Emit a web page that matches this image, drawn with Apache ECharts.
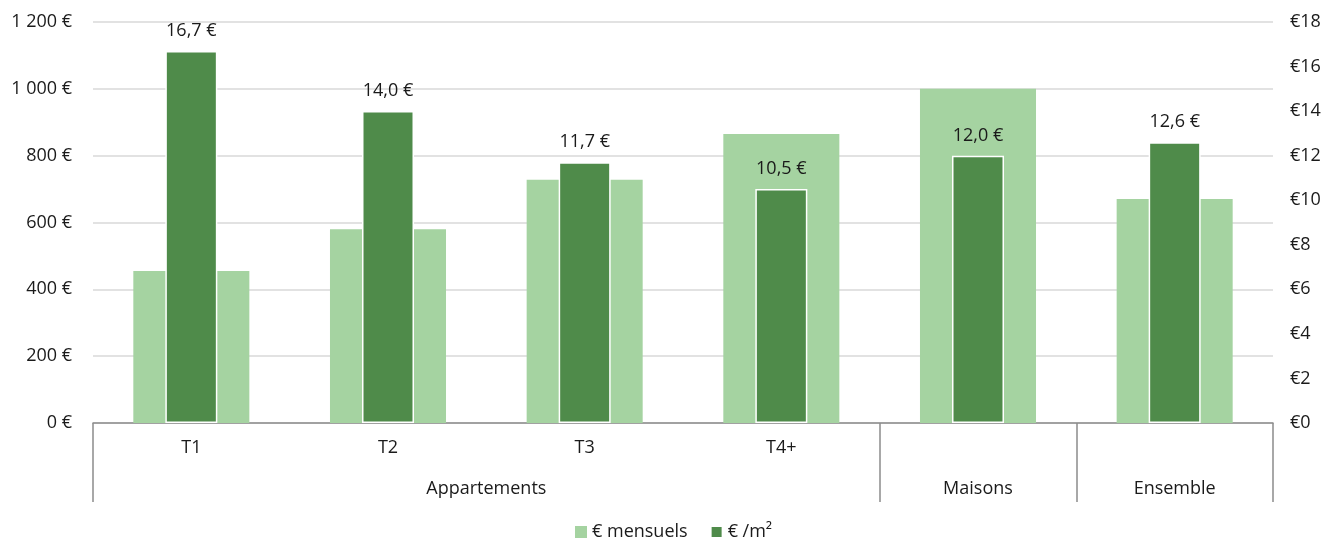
<!DOCTYPE html>
<html lang="fr">
<head>
<meta charset="utf-8">
<title>Loyers moyens par type de logement</title>
<script src="https://cdn.jsdelivr.net/npm/echarts@6/dist/echarts.min.js"></script>
<style>
  html, body { margin: 0; padding: 0; background: #fff; }
  #chart { width: 1327px; height: 539px; }
</style>
</head>
<body>
<div id="chart"></div>
<script>
// Categories (one per bar group) and their first-level labels
const categories = ['T1', 'T2', 'T3', 'T4+', 'Maisons', 'Ensemble'];
const typeLabels = ['T1', 'T2', 'T3', 'T4+', '', ''];
// Second-level groups and how many categories each spans
const groupNames = ['Appartements', 'Maisons', 'Ensemble'];
const groupSpans = [4, 1, 1];

// Series values
const loyerMensuel = [455, 580, 728, 865, 1000, 670];   // € mensuels (left axis)
const loyerM2 = [16.7, 14.0, 11.7, 10.5, 12.0, 12.6];   // € /m² (right axis)

// Axis ticks
const leftTicks = { min: 0, max: 1200, interval: 200 };
const rightTicks = { min: 0, max: 18, interval: 2 };

const FONT = 'Open Sans';
const FS = 18;
const TEXT = '#1a1a1a';
const LINE = '#8c8c8c';

// Group boundaries and centres on a 0..n scale
const groupEdges = [0];
const groupCentres = [];
const centreName = {};
groupSpans.forEach(function (s, i) {
  const start = groupEdges[groupEdges.length - 1];
  const c = start + s / 2;
  groupCentres.push(c);
  centreName[c] = groupNames[i];
  groupEdges.push(start + s);
});

function frNumber(v) {
  return String(v).replace(/\B(?=(\d{3})+(?!\d))/g, ' ');
}

const chart = echarts.init(document.getElementById('chart'), null, { renderer: 'canvas' });

chart.setOption({
  animation: false,
  textStyle: { fontFamily: FONT },
  grid: { left: 93, right: 54, top: 22, bottom: 116, containLabel: false },
  legend: {
    bottom: -7,
    left: 570,
    itemWidth: 12,
    itemHeight: 12,
    itemGap: 22,
    icon: 'rect',
    textStyle: { fontFamily: FONT, fontSize: FS, color: TEXT },
    data: ['€ mensuels', '€ /m²']
  },
  xAxis: [
    {
      type: 'category',
      data: categories,
      axisLine: { lineStyle: { color: LINE, width: 1.5 } },
      axisTick: { show: false },
      axisLabel: {
        interval: 0,
        margin: 16,
        fontSize: FS,
        color: TEXT,
        fontFamily: FONT,
        formatter: function (v, i) { return typeLabels[i]; }
      },
      splitLine: { show: false }
    },
    {
      type: 'category',
      data: categories,
      show: false
    },
    {
      type: 'value',
      position: 'bottom',
      min: 0,
      max: categories.length,
      axisLine: { show: false },
      axisTick: {
        show: true,
        length: 79,
        customValues: groupEdges,
        lineStyle: { color: LINE, width: 1.5 }
      },
      axisLabel: {
        margin: 57,
        fontSize: FS,
        color: TEXT,
        fontFamily: FONT,
        customValues: groupCentres,
        formatter: function (v) { return centreName[v] || ''; }
      },
      splitLine: { show: false }
    }
  ],
  yAxis: [
    {
      type: 'value',
      min: leftTicks.min,
      max: leftTicks.max,
      interval: leftTicks.interval,
      axisLine: { show: false },
      axisTick: { show: false },
      axisLabel: {
        margin: 21,
        fontSize: FS,
        color: TEXT,
        fontFamily: FONT,
        formatter: function (v) { return frNumber(v) + ' €'; }
      },
      splitLine: { lineStyle: { color: '#d9d9d9', width: 1.5 } }
    },
    {
      type: 'value',
      min: rightTicks.min,
      max: rightTicks.max,
      interval: rightTicks.interval,
      position: 'right',
      axisLine: { show: false },
      axisTick: { show: false },
      axisLabel: {
        margin: 17,
        fontSize: FS,
        color: TEXT,
        fontFamily: FONT,
        formatter: function (v) { return '€' + v; }
      },
      splitLine: { show: false }
    }
  ],
  series: [
    {
      name: '€ mensuels',
      type: 'bar',
      xAxisIndex: 0,
      yAxisIndex: 0,
      barWidth: '59%',
      itemStyle: { color: '#a5d3a1' },
      data: loyerMensuel,
      z: 2
    },
    {
      name: '€ /m²',
      type: 'bar',
      xAxisIndex: 1,
      yAxisIndex: 1,
      barWidth: 52,
      itemStyle: { color: '#4f8b4a', borderColor: '#ffffff', borderWidth: 1.5 },
      label: {
        show: true,
        position: 'top',
        distance: 11,
        fontSize: FS,
        color: TEXT,
        fontFamily: FONT,
        formatter: function (p) { return p.value.toFixed(1).replace('.', ',') + ' €'; }
      },
      data: loyerM2,
      z: 3
    }
  ]
});
</script>
</body>
</html>
